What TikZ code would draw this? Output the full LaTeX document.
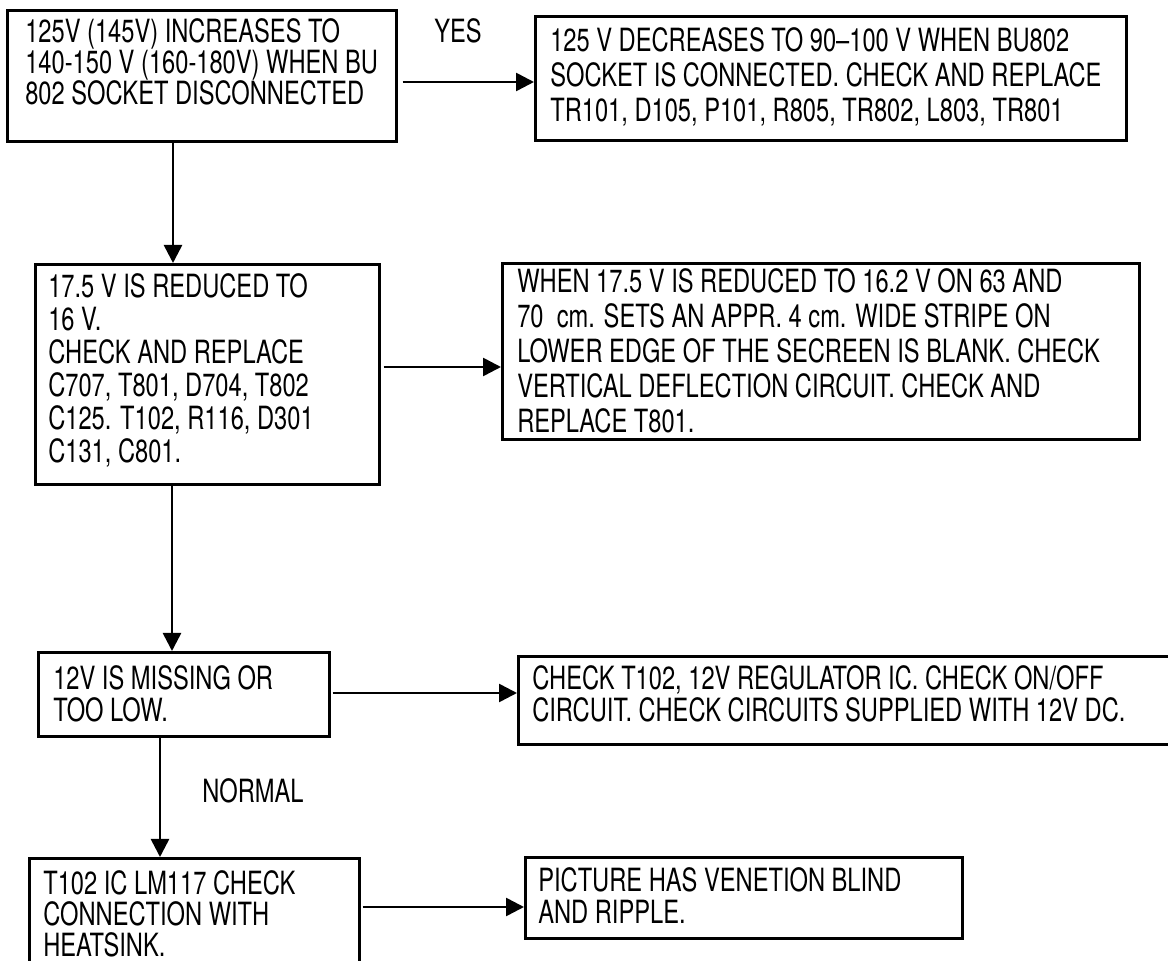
\documentclass[tikz,border=0pt]{standalone}
\usepackage{fontspec}
\setmainfont{TeX Gyre Heros}[FakeStretch=0.74]
\usetikzlibrary{arrows.meta}
\newdimen\bxw \newdimen\bxl \newdimen\capht
\capht=11.5pt
\newcommand\tl[1]{\hbox to \bxw{\vrule height\capht depth0pt width0pt\hskip\bxl\smash{#1}\hss}}
\newcommand\boxtext[6]{\bxw=#1\relax\bxl=#3\relax\vbox to #2{\baselineskip=#5\relax\lineskip=0pt\lineskiplimit=-100pt\vskip#4\relax #6\vfil}}
\begin{document}
\begin{tikzpicture}[x=0.5pt,y=-0.5pt,
  every node/.style={font=\fontsize{16}{17}\selectfont},
  bx/.style={draw, line width=1.3pt, inner sep=0pt, anchor=north west},
  lbl/.style={inner sep=0pt},
  arr/.style={-{Triangle[length=9pt,width=9pt]}, line width=1.3pt}]
\useasboundingbox (0,0) rectangle (1168,961);
\clip (0,0) rectangle (1168,961);

\node[bx] (b1) at (6,9) {\boxtext{194.5pt}{65.5pt}{9pt}{4.5pt}{15.5pt}{%
  \tl{125V (145V) INCREASES TO}\tl{140-150 V (160-180V) WHEN BU}\tl{802 SOCKET DISCONNECTED}}};
\node[bx] (b2) at (534,15) {\boxtext{295.5pt}{62pt}{7.5pt}{6pt}{17.5pt}{%
  \tl{125 V DECREASES TO 90–100 V WHEN BU802}\tl{SOCKET IS CONNECTED. CHECK AND REPLACE}\tl{TR101, D105, P101, R805, TR802, L803, TR801}}};
\node[bx] (b3) at (34,263) {\boxtext{172pt}{110pt}{6.5pt}{5pt}{16.5pt}{%
  \tl{17.5 V IS REDUCED TO}\tl{16 V.}\tl{CHECK AND REPLACE}\tl{C707, T801, D704, T802}\tl{C125. T102, R116, D301}\tl{C131, C801.}}};
\node[bx] (b4) at (501,262) {\boxtext{318.5pt}{88pt}{7.5pt}{3pt}{17.5pt}{%
  \tl{WHEN 17.5 V IS REDUCED TO 16.2 V ON 63 AND}\tl{70\ \ cm. SETS AN APPR. 4 cm. WIDE STRIPE ON}\tl{LOWER EDGE OF THE SECREEN IS BLANK. CHECK}\tl{VERTICAL DEFLECTION CIRCUIT. CHECK AND}\tl{REPLACE T801.}}};
\node[bx] (b5) at (37,651) {\boxtext{145.5pt}{42pt}{7.5pt}{7pt}{16pt}{%
  \tl{12V IS MISSING OR}\tl{TOO LOW.}}};
\node[bx] (b6) at (517,655) {\boxtext{329pt}{44pt}{7pt}{5pt}{16pt}{%
  \tl{CHECK T102, 12V REGULATOR IC. CHECK ON/OFF}\tl{CIRCUIT. CHECK CIRCUITS SUPPLIED WITH 12V DC.}}};
\node[bx] (b7) at (28,857) {\boxtext{165pt}{59pt}{7pt}{6.5pt}{15.5pt}{%
  \tl{T102 IC LM117 CHECK}\tl{CONNECTION WITH}\tl{HEATSINK.}}};
\node[bx] (b8) at (524,856) {\boxtext{218.5pt}{40.5pt}{6.5pt}{5.5pt}{16pt}{%
  \tl{PICTURE HAS VENETION BLIND}\tl{AND RIPPLE.}}};

\node[lbl] (yes) at (458,31) {YES};
\node[lbl] (normal) at (253,791) {NORMAL};

\coordinate (c12) at (0,82);
\coordinate (c34) at (0,367);
\coordinate (c56) at (0,693);
\coordinate (c78) at (0,907);
\coordinate (v13) at (173,0);
\coordinate (v35) at (172,0);
\coordinate (v57) at (160,0);

\draw[arr, shorten <=2.5pt] (b1.east |- c12) -- (b2.west |- c12);
\draw[arr, shorten <=1.5pt] (b3.east |- c34) -- (b4.west |- c34);
\draw[arr, shorten <=1pt] (b5.east |- c56) -- (b6.west |- c56);
\draw[arr, shorten <=1pt] (b7.east |- c78) -- (b8.west |- c78);
\draw[arr] (b1.south -| v13) -- (b3.north -| v13);
\draw[arr] (b3.south -| v35) -- (b5.north -| v35);
\draw[arr] (b5.south -| v57) -- (b7.north -| v57);
\end{tikzpicture}
\end{document}
